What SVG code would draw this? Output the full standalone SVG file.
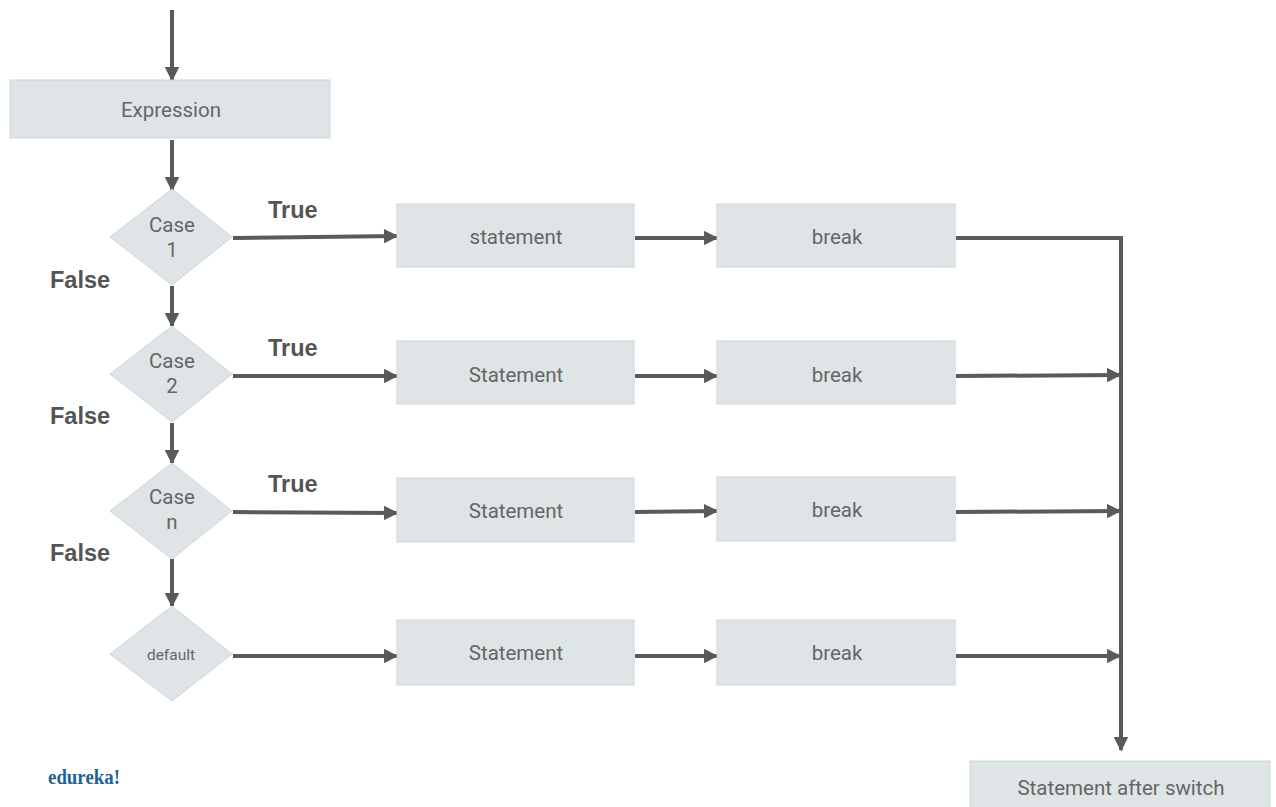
<svg xmlns="http://www.w3.org/2000/svg" width="1276" height="807" viewBox="0 0 1276 807">
  <style>
    .box { fill: #dfe5e7; stroke: #cfd6d9; stroke-width: 1; }
    .lbl { font-family: Roboto, "Liberation Sans", sans-serif; font-size: 20.5px; fill: #666; text-anchor: middle; }
    .small { font-size: 15.5px; }
    .tf { font-family: "Liberation Sans", Arial, sans-serif; font-weight: bold; font-size: 23.5px; fill: #555; }
    .wire { stroke: #5a5a5a; stroke-width: 4; fill: none; }
    .arrow { marker-end: url(#head); }
  </style>
  <defs>
    <marker id="head" viewBox="0 0 10 10" refX="9" refY="5" markerWidth="4" markerHeight="3.6" orient="auto" markerUnits="strokeWidth">
      <path d="M0,0 L10,5 L0,10 z" fill="#5a5a5a"/>
    </marker>
  </defs>
  <rect width="1276" height="807" fill="#fff"/>

  <g id="connectors">
    <line class="wire arrow" x1="172" y1="10" x2="172" y2="80"/>
    <line class="wire arrow" x1="172" y1="140" x2="172" y2="190"/>
    <line class="wire arrow" x1="172" y1="286" x2="172" y2="326"/>
    <line class="wire arrow" x1="172" y1="423" x2="172" y2="463"/>
    <line class="wire arrow" x1="172" y1="559" x2="172" y2="606"/>

    <line class="wire arrow" x1="233" y1="238" x2="397" y2="236"/>
    <line class="wire arrow" x1="233" y1="376" x2="397" y2="376"/>
    <line class="wire arrow" x1="233" y1="512" x2="397" y2="513"/>
    <line class="wire arrow" x1="233" y1="656" x2="397" y2="656"/>

    <line class="wire arrow" x1="635" y1="238" x2="717" y2="238"/>
    <line class="wire arrow" x1="635" y1="376" x2="717" y2="376"/>
    <line class="wire arrow" x1="635" y1="512" x2="717" y2="511"/>
    <line class="wire arrow" x1="635" y1="656" x2="717" y2="656"/>

    <polyline class="wire arrow" points="956,238 1121,238 1121,750"/>
    <line class="wire arrow" x1="956" y1="376" x2="1120" y2="375"/>
    <line class="wire arrow" x1="956" y1="512" x2="1120" y2="511"/>
    <line class="wire arrow" x1="956" y1="656" x2="1120" y2="656"/>
  </g>

  <g id="expression">
    <rect class="box" x="10" y="80" width="320" height="58"/>
    <text class="lbl" x="171" y="117">Expression</text>
  </g>

  <g id="case1">
    <polygon class="box" points="172,189 232,237 172,285 110,237"/>
    <text class="lbl" x="172" y="232">Case</text>
    <text class="lbl" x="172" y="257">1</text>
  </g>
  <g id="case2">
    <polygon class="box" points="172,326 232,374 172,422 110,374"/>
    <text class="lbl" x="172" y="368">Case</text>
    <text class="lbl" x="172" y="393">2</text>
  </g>
  <g id="casen">
    <polygon class="box" points="172,463 232,511 172,559 110,511"/>
    <text class="lbl" x="172" y="504">Case</text>
    <text class="lbl" x="172" y="529">n</text>
  </g>
  <g id="default">
    <polygon class="box" points="172,606 232,654 172,701 110,654"/>
    <text class="lbl small" x="171" y="660">default</text>
  </g>

  <g id="labels">
    <text class="tf" x="268" y="218">True</text>
    <text class="tf" x="268" y="356">True</text>
    <text class="tf" x="268" y="492">True</text>
    <text class="tf" x="50" y="288">False</text>
    <text class="tf" x="50" y="424">False</text>
    <text class="tf" x="50" y="561">False</text>
  </g>

  <g id="statement1">
    <rect class="box" x="397" y="204" width="237" height="63"/>
    <text class="lbl" x="516" y="244">statement</text>
  </g>
  <g id="statement2">
    <rect class="box" x="397" y="341" width="237" height="63"/>
    <text class="lbl" x="516" y="382">Statement</text>
  </g>
  <g id="statement3">
    <rect class="box" x="397" y="478" width="237" height="64"/>
    <text class="lbl" x="516" y="518">Statement</text>
  </g>
  <g id="statement4">
    <rect class="box" x="397" y="620" width="237" height="65"/>
    <text class="lbl" x="516" y="660">Statement</text>
  </g>

  <g id="break1">
    <rect class="box" x="717" y="204" width="238" height="63"/>
    <text class="lbl" x="837" y="244">break</text>
  </g>
  <g id="break2">
    <rect class="box" x="717" y="341" width="238" height="63"/>
    <text class="lbl" x="837" y="382">break</text>
  </g>
  <g id="break3">
    <rect class="box" x="717" y="477" width="238" height="64"/>
    <text class="lbl" x="837" y="517">break</text>
  </g>
  <g id="break4">
    <rect class="box" x="717" y="620" width="238" height="65"/>
    <text class="lbl" x="837" y="660">break</text>
  </g>

  <g id="after-switch">
    <rect class="box" x="970" y="761" width="300" height="60"/>
    <text class="lbl" x="1121" y="795">Statement after switch</text>
  </g>

  <g id="brand">
    <text x="48" y="784" font-family="'Liberation Serif', 'DejaVu Serif', serif" font-weight="bold" font-size="20" textLength="72" lengthAdjust="spacingAndGlyphs" fill="#1f6491">edureka!</text>
  </g>
</svg>
